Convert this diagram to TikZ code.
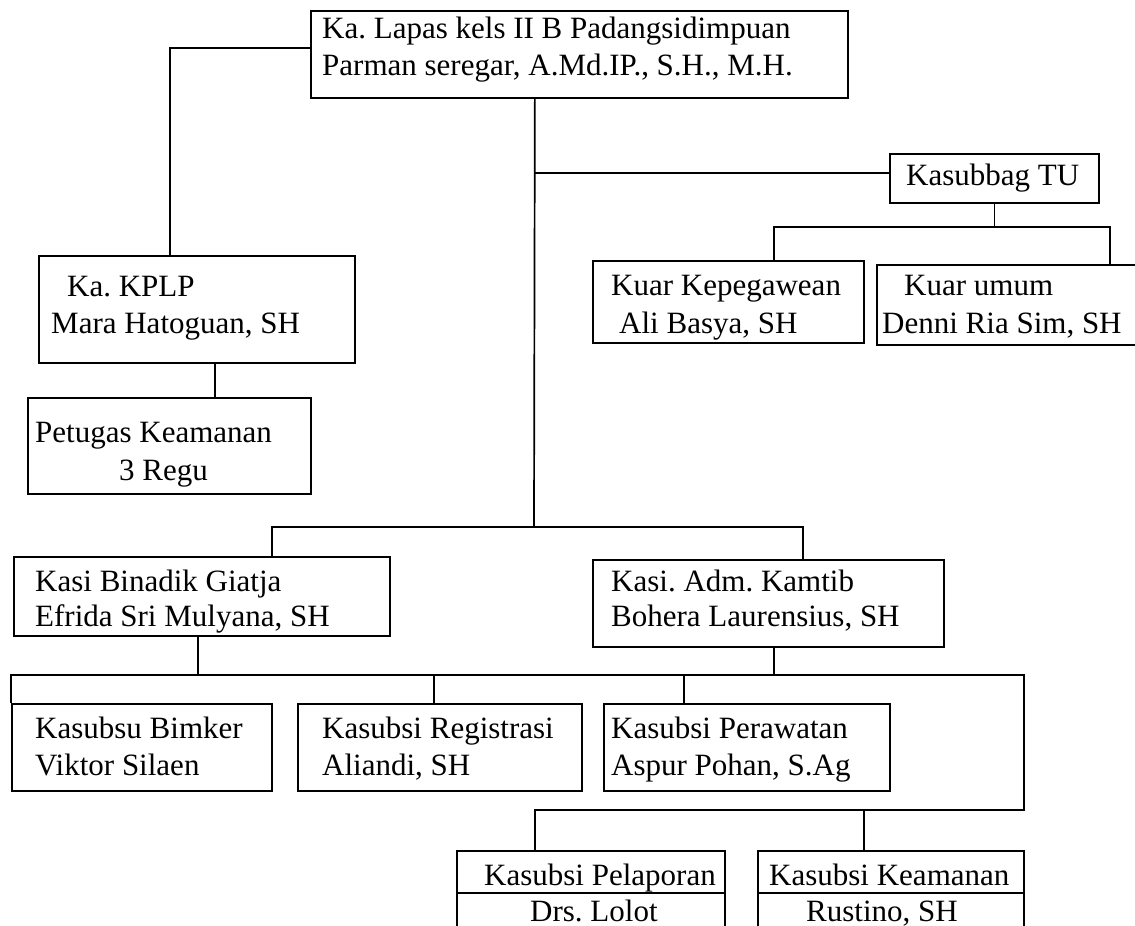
\documentclass[tikz,border=0pt]{standalone}
\usepackage{fontspec}
\setmainfont{Liberation Serif}
\frenchspacing
\begin{document}
\begin{tikzpicture}[x=1pt,y=-1pt,
  box/.style={draw, line width=1.7pt, anchor=north west, inner sep=0pt},
  lbl/.style={anchor=base west, inner sep=0pt, font=\fontsize{31}{37}\selectfont},
  conn/.style={line width=1.7pt}]
\clip (0,0) rectangle (1135,926);
% boxes
\node[box, minimum width=537pt, minimum height=87pt]  (top)     at (310,10)  {};
\node[box, minimum width=316pt, minimum height=107pt] (kplp)    at (38,255)  {};
\node[box, minimum width=283pt, minimum height=96pt]  (petugas) at (27,397)  {};
\node[box, minimum width=209pt, minimum height=49pt]  (tu)      at (889,153) {};
\node[box, minimum width=271pt, minimum height=82pt]  (kepeg)   at (592,260) {};
\node[box, minimum width=269pt, minimum height=80pt]  (umum)    at (876,264) {};
\node[box, minimum width=376pt, minimum height=79pt]  (binadik) at (13,556)  {};
\node[box, minimum width=351pt, minimum height=87pt]  (adm)     at (592,559) {};
\node[box, minimum width=260pt, minimum height=87pt]  (bimker)  at (11,703)  {};
\node[box, minimum width=284pt, minimum height=87pt]  (regis)   at (297,703) {};
\node[box, minimum width=286pt, minimum height=87pt]  (rawat)   at (603,703) {};
\node[box, minimum width=268pt, minimum height=100pt] (lapor)   at (456,850) {};
\node[box, minimum width=266pt, minimum height=100pt] (aman)    at (757,850) {};
\draw[conn] ([yshift=-43pt]lapor.north west) -- ([yshift=-43pt]lapor.north east);
\draw[conn] ([yshift=-43pt]aman.north west) -- ([yshift=-43pt]aman.north east);
% texts
\node[lbl] (t1)  at (322,38)  {Ka. Lapas kels II B Padangsidimpuan};
\node[lbl] (t2)  at (322,75)  {Parman seregar, A.Md.IP., S.H., M.H.};
\node[lbl] (t3)  at (67,296)  {Ka. KPLP};
\node[lbl] (t4)  at (51,333)  {Mara Hatoguan, SH};
\node[lbl] (t5)  at (35,442)  {Petugas Keamanan};
\node[lbl] (t6)  at (119,480) {3 Regu};
\node[lbl] (t7)  at (906,185) {Kasubbag TU};
\node[lbl] (t8)  at (611,295) {Kuar Kepegawean};
\node[lbl] (t9)  at (619,333) {Ali Basya, SH};
\node[lbl] (t10) at (904,295) {Kuar umum};
\node[lbl] (t11) at (882,333) {Denni Ria Sim, SH};
\node[lbl] (t12) at (35,591)  {Kasi Binadik Giatja};
\node[lbl] (t13) at (35,626)  {Efrida Sri Mulyana, SH};
\node[lbl] (t14) at (611,591) {Kasi. Adm. Kamtib};
\node[lbl] (t15) at (611,626) {Bohera Laurensius, SH};
\node[lbl] (t16) at (35,738)  {Kasubsu Bimker};
\node[lbl] (t17) at (35,775)  {Viktor Silaen};
\node[lbl] (t18) at (322,738) {Kasubsi Registrasi};
\node[lbl] (t19) at (322,775) {Aliandi, SH};
\node[lbl] (t20) at (611,738) {Kasubsi Perawatan};
\node[lbl] (t21) at (611,775) {Aspur Pohan, S.Ag};
\node[lbl] (t22) at (484,885) {Kasubsi Pelaporan};
\node[lbl] (t23) at (530,921) {Drs. Lolot};
\node[lbl] (t24) at (769,885) {Kasubsi Keamanan};
\node[lbl] (t25) at (806,921) {Rustino, SH};
% connectors
\coordinate (hub) at (534,527);
\coordinate (rt) at (1024,810);
\draw[conn] ([yshift=6.5pt]top.west) -| ([xshift=-27pt]kplp.north);
\draw[conn] ([xshift=18pt]kplp.south) -- ([xshift=45.5pt]petugas.north);
\draw[conn] ([xshift=-44.5pt]top.south) -- (hub);
\draw[conn] ([yshift=5.5pt]tu.west) -- ([yshift=5.5pt]tu.west -| hub);
\draw[conn] (tu.south) -- ++(0,23) coordinate (tub);
\draw[conn] (tub) -| ([xshift=45.5pt]kepeg.north);
\draw[conn] (tub) -| ([xshift=98.5pt]umum.north);
\draw[conn] ([xshift=70pt]binadik.north) |- (hub) -| ([xshift=34.5pt]adm.north);
\draw[conn] ([xshift=-4pt]binadik.south) -- ++(0,38) coordinate (bj);
\draw[conn] (bimker.north west) |- (bj) -| ([xshift=-63pt]rawat.north);
\draw[conn] ([xshift=-6pt]regis.north) -- ([xshift=-6pt]regis.north |- bj);
\draw[conn] ([xshift=5.5pt]adm.south) -- ++(0,27) coordinate (aj);
\draw[conn] ([xshift=-63pt]rawat.north |- aj) -- (aj) -| (rt) -| ([xshift=-56pt]lapor.north);
\draw[conn] ([xshift=-27pt]aman.north) -- ([xshift=-27pt]aman.north |- rt);
\end{tikzpicture}
\end{document}
